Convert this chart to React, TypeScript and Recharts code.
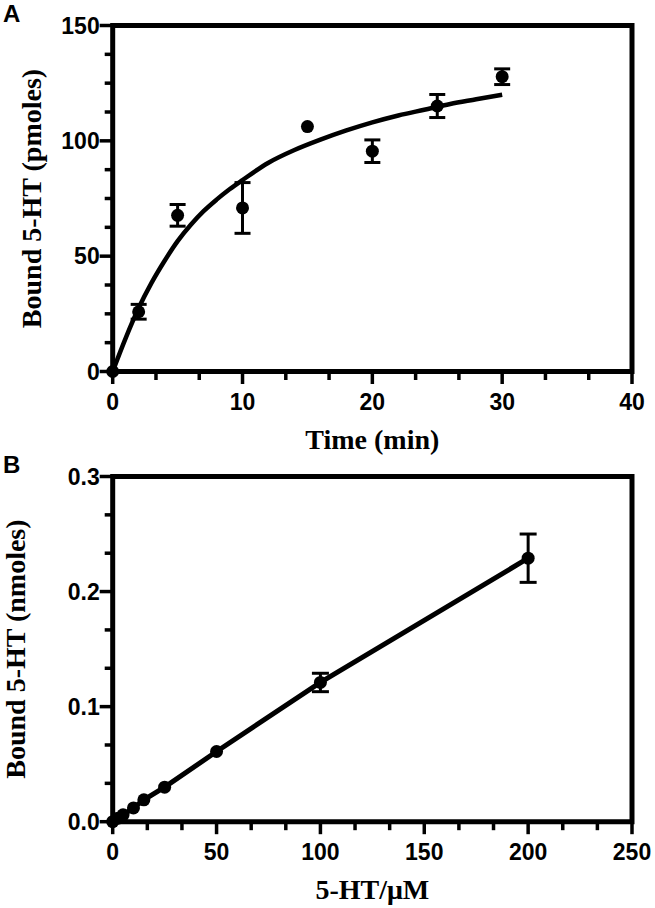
import React from 'react';
import { ComposedChart, Line, Scatter, XAxis, YAxis, ErrorBar, ReferenceArea } from 'recharts';

// Panel A: time course
const timeMin = [0, 2, 5, 10, 15, 20, 25, 30];
const boundPmol = [0, 25.9, 67.7, 70.9, 106.2, 95.5, 115.1, 127.8];
const boundPmolErr = [0, 3.2, 4.7, 11.0, 0, 4.9, 5.0, 3.4];
const fitTime = [0, 1, 2, 3, 4, 5, 6, 7, 8, 9, 10, 12, 14, 16, 18, 20, 22, 24, 26, 28, 30];
const fitPmol = [0, 14.5, 27.5, 38.5, 48, 56.5, 63.5, 69.5, 74.5, 79, 83, 90.5, 96, 100.5, 104.5, 108, 111, 113.5, 116, 118, 120];

// Panel B: concentration dependence
const concUM = [0, 2.5, 5, 10, 15, 25, 50, 100, 200];
const boundNmol = [0, 0.003, 0.006, 0.012, 0.019, 0.030, 0.061, 0.121, 0.229];
const boundNmolErr = [0, 0, 0, 0, 0, 0, 0, 0.008, 0.021];

// Ticks
const xMajorA = [0, 10, 20, 30, 40];
const xLabelsA = ['0', '10', '20', '30', '40'];
const yMajorA = [0, 50, 100, 150];
const yLabelsA = ['0', '50', '100', '150'];
const xMajorB = [0, 50, 100, 150, 200, 250];
const xLabelsB = ['0', '50', '100', '150', '200', '250'];
const yMajorB = [0, 0.1, 0.2, 0.3];
const yLabelsB = ['0.0', '0.1', '0.2', '0.3'];

const subdivide = (majors: number[], n: number) => {
  const out: number[] = [];
  for (let i = 0; i < majors.length - 1; i++) {
    for (let k = 0; k < n; k++) out.push(majors[i] + ((majors[i + 1] - majors[i]) * k) / n);
  }
  out.push(majors[majors.length - 1]);
  return out;
};

const pointsA = timeMin.map((x, i) => ({ x, y: boundPmol[i], err: boundPmolErr[i] || null }));
const curveA = fitTime.map((x, i) => ({ x, y: fitPmol[i] }));
const pointsB = concUM.map((x, i) => ({ x, y: boundNmol[i], err: boundNmolErr[i] || null }));

const tickFont: React.CSSProperties = {
  fontFamily: "'Liberation Sans', Arial, sans-serif",
  fontWeight: 700,
  fontSize: 23,
  fill: '#000',
};
const titleFont: React.CSSProperties = {
  fontFamily: "'Liberation Serif', 'Times New Roman', serif",
  fontWeight: 700,
  fontSize: 28,
  fill: '#000',
};

const findMajor = (majors: number[], v: number) => majors.findIndex((m) => Math.abs(m - v) < 1e-6);

const BottomTick = (props: any) => {
  const { x, y, payload, majors, labels } = props;
  const idx = findMajor(majors, payload.value);
  const major = idx >= 0;
  return (
    <g>
      <line x1={x} x2={x} y1={y} y2={y + (major ? 12.5 : 8.5)} stroke="#000" strokeWidth={3.5} />
      {major && (
        <text x={x} y={y + 38} textAnchor="middle" style={tickFont}>
          {labels[idx]}
        </text>
      )}
    </g>
  );
};

const LeftTick = (props: any) => {
  const { x, y, payload, majors, labels } = props;
  const idx = findMajor(majors, payload.value);
  const major = idx >= 0;
  return (
    <g>
      <line x1={x - (major ? 13 : 8)} x2={x} y1={y} y2={y} stroke="#000" strokeWidth={3.5} />
      {major && (
        <text x={x - 13} y={y + 8.2} textAnchor="end" style={tickFont}>
          {labels[idx]}
        </text>
      )}
    </g>
  );
};

const XTitle = (props: any) => {
  const { viewBox, text } = props;
  const cx = viewBox.x + viewBox.width / 2;
  return (
    <text x={cx} y={viewBox.y + 77} textAnchor="middle" style={titleFont}>
      {text}
    </text>
  );
};

const YTitle = (props: any) => {
  const { viewBox, text, bx } = props;
  const cy = viewBox.y + viewBox.height / 2;
  return (
    <text x={bx} y={cy} textAnchor="middle" transform={`rotate(-90, ${bx}, ${cy})`} style={titleFont}>
      {text}
    </text>
  );
};

const Dot = (p: any) => <circle cx={p.cx} cy={p.cy} r={6.5} fill="#000" />;

const letterStyle: React.CSSProperties = {
  position: 'absolute',
  left: 3,
  fontFamily: "'Liberation Sans', Arial, sans-serif",
  fontWeight: 700,
  fontSize: 24,
  lineHeight: '24px',
  color: '#000',
};

export default function App() {
  return (
    <div style={{ position: 'absolute', left: 0, top: 0, width: 655, height: 908, background: '#fff' }}>
      <div style={{ ...letterStyle, top: 2 }}>A</div>
      <div style={{ ...letterStyle, top: 453 }}>B</div>

      <div style={{ position: 'absolute', left: 0, top: 0 }}>
        <ComposedChart width={655} height={455} margin={{ top: 25.5, right: 23, left: 0, bottom: 0 }}>
          <XAxis
            dataKey="x"
            type="number"
            domain={[0, 40]}
            ticks={subdivide(xMajorA, 3)}
            interval={0}
            height={83.5}
            axisLine={false}
            tickLine={false}
            tickSize={0}
            tickMargin={0}
            tick={<BottomTick majors={xMajorA} labels={xLabelsA} />}
            label={<XTitle text="Time (min)" />}
          />
          <YAxis
            dataKey="y"
            type="number"
            domain={[0, 150]}
            ticks={subdivide(yMajorA, 4)}
            interval={0}
            width={112.7}
            axisLine={false}
            tickLine={false}
            tickSize={0}
            tickMargin={0}
            tick={<LeftTick majors={yMajorA} labels={yLabelsA} />}
            label={<YTitle text="Bound 5-HT (pmoles)" bx={41} />}
          />
          <ReferenceArea x1={0} x2={40} y1={0} y2={150} fill="none" fillOpacity={0} stroke="#000" strokeWidth={5} ifOverflow="visible" />
          <Line data={curveA} dataKey="y" type="monotone" dot={false} stroke="#000" strokeWidth={4.5} isAnimationActive={false} />
          <Scatter data={pointsA} dataKey="y" fill="#000" shape={Dot} isAnimationActive={false}>
            <ErrorBar dataKey="err" direction="y" width={8} strokeWidth={3} stroke="#000" isAnimationActive={false} />
          </Scatter>
        </ComposedChart>
      </div>

      <div style={{ position: 'absolute', left: 0, top: 455 }}>
        <ComposedChart width={655} height={453} margin={{ top: 21.5, right: 23, left: 0, bottom: 0 }}>
          <XAxis
            dataKey="x"
            type="number"
            domain={[0, 250]}
            ticks={subdivide(xMajorB, 3)}
            interval={0}
            height={86.3}
            axisLine={false}
            tickLine={false}
            tickSize={0}
            tickMargin={0}
            tick={<BottomTick majors={xMajorB} labels={xLabelsB} />}
            label={<XTitle text="5-HT/μM" />}
          />
          <YAxis
            dataKey="y"
            type="number"
            domain={[0, 0.3]}
            ticks={subdivide(yMajorB, 3)}
            interval={0}
            width={112.7}
            axisLine={false}
            tickLine={false}
            tickSize={0}
            tickMargin={0}
            tick={<LeftTick majors={yMajorB} labels={yLabelsB} />}
            label={<YTitle text="Bound 5-HT (nmoles)" bx={25} />}
          />
          <ReferenceArea x1={0} x2={250} y1={0} y2={0.3} fill="none" fillOpacity={0} stroke="#000" strokeWidth={5} ifOverflow="visible" />
          <Line data={pointsB} dataKey="y" type="linear" dot={false} stroke="#000" strokeWidth={5} isAnimationActive={false} />
          <Scatter data={pointsB} dataKey="y" fill="#000" shape={Dot} isAnimationActive={false}>
            <ErrorBar dataKey="err" direction="y" width={8.5} strokeWidth={3} stroke="#000" isAnimationActive={false} />
          </Scatter>
        </ComposedChart>
      </div>
    </div>
  );
}
